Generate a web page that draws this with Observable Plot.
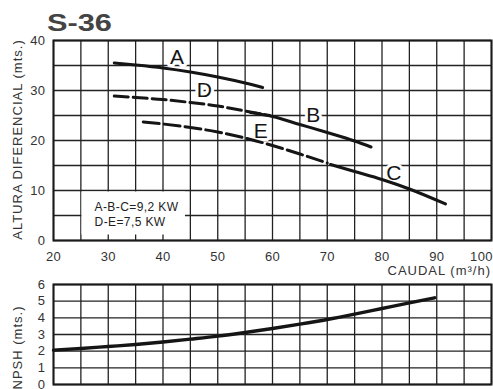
<!DOCTYPE html>
<html><head><meta charset="utf-8">
<script src="https://cdn.jsdelivr.net/npm/d3@7"></script>
<script src="https://cdn.jsdelivr.net/npm/@observablehq/plot@0.6"></script>
<style>
html,body{margin:0;padding:0;background:#fff}
#wrap{position:relative;width:493px;height:389px;overflow:hidden;background:#fff}
#title{position:absolute;left:47px;top:11px;font:bold 24px/24px "Liberation Sans",Arial,sans-serif;color:#444;transform:scaleX(1.28);transform-origin:left top;white-space:nowrap}
#top,#bottom{position:absolute;left:0}
#top{top:0}
#bottom{top:276px}
svg text{letter-spacing:0.4px}
</style></head><body>
<div id="wrap"><div id="top"></div><div id="bottom"></div><div id="title">S-36</div></div>
<script>
// ---- data (caudal m3/h, altura mts.) ----
const aQ = [31.1, 35, 40, 45, 50, 55, 58.2];
const aH = [35.5, 35.1, 34.5, 33.7, 32.7, 31.5, 30.6];
const bQ = [56, 60, 65, 70, 75, 78];
const bH = [25.6, 24.8, 23.2, 21.6, 19.9, 18.7];
const cQ = [70.6, 75, 80, 85, 91.6];
const cH = [15.2, 13.8, 12.2, 10.3, 7.3];
const dQ = [31.1, 35, 40, 45, 50, 55, 59.5];
const dH = [28.9, 28.6, 28.2, 27.6, 26.9, 25.9, 25.0];
const eQ = [36.4, 40, 45, 50, 55, 60, 65, 70];
const eH = [23.7, 23.3, 22.6, 21.7, 20.5, 19.0, 17.3, 15.5];
const npshQ = [20, 25, 30, 35, 40, 45, 50, 55, 60, 65, 70, 75, 80, 85, 89.6];
const npshH = [2.06, 2.16, 2.28, 2.4, 2.55, 2.72, 2.9, 3.12, 3.36, 3.62, 3.9, 4.22, 4.56, 4.9, 5.2];

const curveNames = ["A", "B", "C", "D", "E"];
const curveLabelQ = [42.6, 67.5, 82.2, 47.6, 57.9];
const curveLabelH = [36.6, 25.0, 13.4, 30.0, 21.9];

const legendLines = ["A-B-C=9,2 KW", "D-E=7,5 KW"];
const legendLineH = [6.6, 3.6];
const legendQ = 27.5;
const legendBox = {q1: 25.2, q2: 44.1, h1: 1.1, h2: 9.7};

const xTicks = [20, 30, 40, 50, 60, 70, 80, 90, 100];
const xGrid = d3.range(20, 100.1, 5);
const yTicksTop = [0, 10, 20, 30, 40];
const yGridTop = d3.range(0, 40.1, 5);
const yTicksNpsh = [0, 1, 2, 3, 4, 5, 6];

const titleText = "S-36";
const yLabelTop = "ALTURA DIFERENCIAL (mts.)";
const xLabel = "CAUDAL (m³/h)";
const yLabelBottom = "NPSH (mts.)";

// ---- helpers ----
const pts = (q, h) => q.map((v, i) => ({q: v, h: h[i]}));
const labels = curveNames.map((t, i) => ({t, q: curveLabelQ[i], h: curveLabelH[i]}));
const legendRows = legendLines.map((t, i) => ({t, h: legendLineH[i]}));
const ink = "#151515";
const gridStyle = {stroke: "#222", strokeOpacity: 1, strokeWidth: 1.3};
const font = '"Liberation Sans", Arial, sans-serif';
const lineOpts = {x: "q", y: "h", stroke: ink, strokeWidth: 3, curve: "monotone-x"};

const topPlot = Plot.plot({
  width: 493, height: 280,
  marginLeft: 53, marginRight: 2, marginTop: 40, marginBottom: 40,
  style: {fontSize: "13px", fontFamily: font, background: "transparent", color: "#333"},
  x: {domain: [20, 100], ticks: xTicks, tickSize: 0, tickPadding: 11, label: null, tickFormat: d => String(d)},
  y: {domain: [0, 40], ticks: yTicksTop, tickSize: 0, tickPadding: 8, label: null, tickFormat: d => String(d)},
  marks: [
    Plot.ruleX(xGrid, gridStyle),
    Plot.ruleY(yGridTop, gridStyle),
    Plot.rect([legendBox], {x1: "q1", x2: "q2", y1: "h1", y2: "h2", fill: "white"}),
    Plot.frame({stroke: "#1a1a1a", strokeWidth: 2}),
    Plot.text(labels, {x: "q", y: "h", text: "t", fontSize: 21, fill: "white", stroke: "white", strokeWidth: 6, fontFamily: font}),
    Plot.line(pts(aQ, aH), lineOpts),
    Plot.line(pts(bQ, bH), lineOpts),
    Plot.line(pts(cQ, cH), lineOpts),
    Plot.line(pts(dQ, dH), {...lineOpts, strokeDasharray: "14,5"}),
    Plot.line(pts(eQ, eH), {...lineOpts, strokeDasharray: "16,5"}),
    Plot.text(labels, {x: "q", y: "h", text: "t", fontSize: 21, fill: ink, fontFamily: font}),
    Plot.text(legendRows, {x: legendQ, y: "h", text: "t", textAnchor: "start", fontSize: 12, fill: "#222", fontFamily: font}),
    Plot.text([yLabelTop], {text: d => d, frameAnchor: "left", textAnchor: "middle", dx: -36, dy: -1, rotate: -90, fontSize: 13, fill: "#333", fontFamily: font}),
    Plot.text([xLabel], {text: d => d, frameAnchor: "bottom-right", textAnchor: "start", dx: -104, dy: 34, fontSize: 13, fill: "#333", fontFamily: font})
  ]
});

const bottomPlot = Plot.plot({
  width: 493, height: 113,
  marginLeft: 53, marginRight: 2, marginTop: 8, marginBottom: 5,
  style: {fontSize: "13px", fontFamily: font, background: "transparent", color: "#333"},
  x: {domain: [20, 100], axis: null},
  y: {domain: [0, 6], ticks: yTicksNpsh, tickSize: 0, tickPadding: 8, label: null, tickFormat: d => String(d)},
  marks: [
    Plot.ruleX(xGrid, gridStyle),
    Plot.ruleY(yTicksNpsh, gridStyle),
    Plot.frame({stroke: "#1a1a1a", strokeWidth: 2}),
    Plot.line(pts(npshQ, npshH), {...lineOpts, strokeWidth: 3.4}),
    Plot.text([yLabelBottom], {text: d => d, frameAnchor: "left", textAnchor: "middle", dx: -36, dy: 13, rotate: -90, fontSize: 13, fill: "#333", fontFamily: font})
  ]
});

document.getElementById("top").appendChild(topPlot);
document.getElementById("bottom").appendChild(bottomPlot);
document.getElementById("title").textContent = titleText;

for (const p of [topPlot, bottomPlot]) {
  d3.select(p).selectAll("text")
    .filter(function () { return /ALTURA|CAUDAL|NPSH/.test(this.textContent); })
    .style("letter-spacing", "1px");
}
// the last x tick label sits slightly inside the right edge, as in the print
d3.select(topPlot).selectAll("text")
  .filter(function () { return this.textContent === "100"; })
  .attr("dx", -10);
</script>
</body></html>
